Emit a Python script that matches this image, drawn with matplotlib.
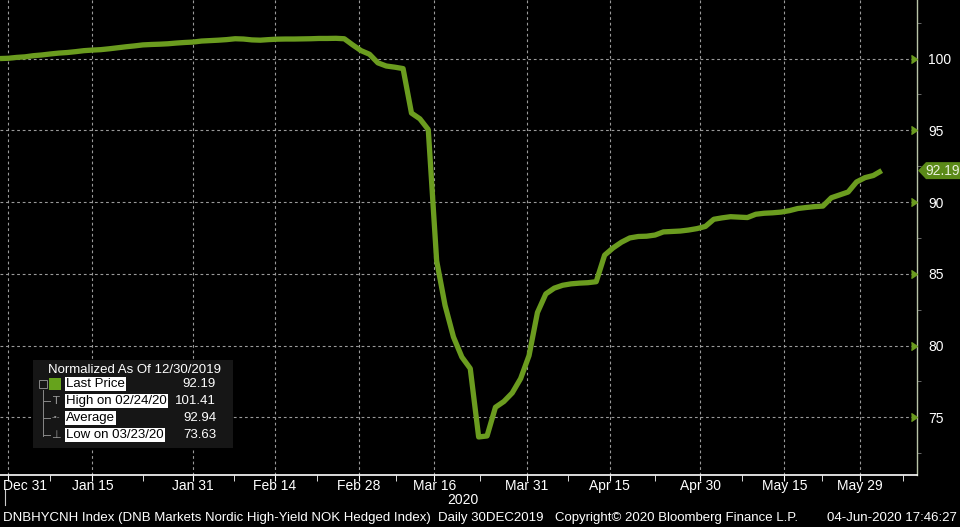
import matplotlib
matplotlib.use("Agg")
import matplotlib.pyplot as plt
import matplotlib.transforms as mtransforms
from matplotlib.patches import Polygon, Rectangle
from matplotlib.lines import Line2D

# normalized index level, one value per trading day starting 30 Dec 2019
values = [
    100.00, 100.02, 100.08, 100.12, 100.20, 100.25, 100.32, 100.38, 100.42, 100.48,
    100.55, 100.59, 100.62, 100.68, 100.75, 100.82, 100.88, 100.95, 100.98, 101.00,
    101.03, 101.08, 101.12, 101.15, 101.22, 101.25, 101.28, 101.32, 101.38, 101.36,
    101.30, 101.28, 101.32, 101.35, 101.36, 101.36, 101.37, 101.38, 101.40, 101.40,
    101.41, 101.38, 100.95, 100.55, 100.30, 99.70, 99.48, 99.40, 99.30, 96.20,
    95.80, 95.05, 85.90, 82.80, 80.60, 79.20, 78.40, 73.63, 73.70, 75.70,
    76.10, 76.70, 77.70, 79.30, 82.30, 83.60, 84.00, 84.20, 84.30, 84.35,
    84.38, 84.45, 86.30, 86.80, 87.20, 87.50, 87.60, 87.62, 87.70, 87.92,
    87.95, 87.98, 88.05, 88.15, 88.30, 88.80, 88.90, 88.98, 88.95, 88.92,
    89.15, 89.22, 89.25, 89.30, 89.40, 89.55, 89.62, 89.68, 89.72, 90.30,
    90.50, 90.70, 91.40, 91.70, 91.85, 92.19,
]

date_ticks = [1, 11, 23, 32.7, 42.7, 51.7, 62.7, 72.6, 83.4, 93.4, 102.4]
date_labels = ["Dec 31", "Jan 15", "Jan 31", "Feb 14", "Feb 28", "Mar 16",
               "Mar 31", "Apr 15", "Apr 30", "May 15", "May 29"]
price_ticks = [75, 80, 85, 90, 95, 100]
minor_ticks = [72.5, 77.5, 82.5, 87.5, 92.5, 97.5, 102.5]

legend_names = ["Last Price", "High on 02/24/20", "Average", "Low on 03/23/20"]
legend_values = ["92.19", "101.41", "92.94", "73.63"]

GREEN = "#6b9c1f"
GRID = "#9a9a9a"
FS = 9.5
plt.rcParams["font.family"] = ["Liberation Sans Narrow", "Liberation Sans", "DejaVu Sans"]

fig = plt.figure(figsize=(9.6, 5.27), dpi=100, facecolor="black")
ax = fig.add_axes([0, 52 / 527, 917 / 960, 475 / 527], facecolor="black")

ax.plot(range(len(values)), values, color=GREEN, lw=3.8, solid_joinstyle="round",
        solid_capstyle="butt", zorder=3)

ax.set_xlim(0, 109.2)
ax.set_ylim(70.98, 104.08)

for s in ["top", "left"]:
    ax.spines[s].set_visible(False)
ax.spines["right"].set_color("#b9c4a8")
ax.spines["right"].set_linewidth(1)
ax.spines["bottom"].set_color("white")
ax.spines["bottom"].set_linewidth(1.2)

# grid
for t in price_ticks:
    ax.axhline(t, color=GRID, lw=0.8, ls=(0, (2.5, 2.5)), zorder=1)
for t in date_ticks:
    ax.axvline(t, color=GRID, lw=0.8, ls=(0, (2.5, 2.5)), zorder=1)

# right price axis
ax.yaxis.tick_right()
ax.set_yticks(price_ticks)
ax.set_yticklabels([str(t) for t in price_ticks])
ax.set_yticks(minor_ticks, minor=True)
ax.tick_params(axis="y", which="major", length=0, pad=8, labelcolor="white",
               labelsize=10)
ax.tick_params(axis="y", which="minor", length=3, color="#777777", direction="out")
ax.plot([1.0] * len(price_ticks), price_ticks, marker=5, ms=6, color=GREEN, ls="none",
        transform=mtransforms.blended_transform_factory(ax.transAxes, ax.transData),
        clip_on=False, zorder=5)

# bottom date axis
ax.set_xticks(date_ticks)
ax.set_xticklabels([])
mids = [(a + b) / 2 for a, b in zip(date_ticks[:-1], date_ticks[1:])] + [107.5]
ax.set_xticks(mids, minor=True)
ax.tick_params(axis="x", which="both", length=4, color="white", direction="out")
xtr = mtransforms.blended_transform_factory(ax.transData, ax.transAxes)
for i, (t, lab) in enumerate(zip(date_ticks, date_labels)):
    if i == 0:
        fig.text(3 / 960, 1 - 486 / 527, lab, color="white", fontsize=10,
                 ha="left", va="center")
    else:
        ax.text(t, -0.024, lab, transform=xtr, color="white", fontsize=10,
                ha="center", va="center")
fig.text(463 / 960, 1 - 500 / 527, "2020", color="white", fontsize=10,
         ha="center", va="center")
fig.add_artist(Line2D([5 / 960, 5 / 960], [1 - 490 / 527, 1 - 505 / 527],
                      color="#cccccc", lw=0.8))

# last price tag
last = values[-1]
ytr = mtransforms.blended_transform_factory(ax.transAxes, ax.transData)
w = 1 / 917
h = 8.5 / 14.35
tag = Polygon([[1.0 + 1 * w, last], [1.0 + 9 * w, last + h], [1.0 + 43 * w, last + h],
               [1.0 + 43 * w, last - h], [1.0 + 9 * w, last - h]],
              closed=True, facecolor="#5b8a18", edgecolor="none",
              transform=ytr, clip_on=False, zorder=6)
ax.add_patch(tag)
ax.text(1.0 + 26 * w, last, f"{last:.2f}", transform=ytr, color="#e8f0dc",
        fontsize=10, ha="center", va="center", zorder=7, clip_on=False)

# legend box
fig.add_artist(Rectangle((33 / 960, 1 - 448 / 527), 200 / 960, 88 / 527,
                         transform=fig.transFigure, facecolor="#161616",
                         edgecolor="none", zorder=8))
fig.text(48 / 960, 1 - 370 / 527, "Normalized As Of 12/30/2019", color="white",
         fontsize=FS, ha="left", va="center", zorder=9)
row_y = [384, 401, 418, 435]
for k, (nm, vl) in enumerate(zip(legend_names, legend_values)):
    yy = 1 - row_y[k] / 527
    fig.text(66 / 960, yy, nm, color="black", fontsize=FS, ha="left", va="center",
             zorder=9, bbox=dict(boxstyle="square,pad=0.08", facecolor="white",
                                 edgecolor="none"))
    fig.text(216 / 960, yy, vl, color="white", fontsize=FS, ha="right",
             va="center", zorder=9)
fig.add_artist(Rectangle((49 / 960, 1 - 390 / 527), 12 / 960, 12 / 527,
                         transform=fig.transFigure, facecolor="#66a31c",
                         edgecolor="none", zorder=9))
# tree guide lines
fig.add_artist(Line2D([43 / 960, 43 / 960], [1 - 390 / 527, 1 - 436 / 527],
                      color="#888888", lw=0.7, zorder=9))
for k in range(1, 4):
    yy = 1 - row_y[k] / 527
    fig.add_artist(Line2D([43 / 960, 50 / 960], [yy, yy], color="#888888", lw=0.7,
                          zorder=9))
fig.add_artist(Rectangle((39 / 960, 1 - 388 / 527), 8 / 960, 8 / 527,
                         transform=fig.transFigure, facecolor="none",
                         edgecolor="#888888", lw=0.7, zorder=9))
for k, sym in zip([1, 3], ["T", "⊥"]):
    fig.text(56 / 960, 1 - row_y[k] / 527, sym, color="#999999", fontsize=8,
             ha="center", va="center", zorder=9, family="DejaVu Sans")
fig.text(56 / 960, 1 - row_y[2] / 527, "-•-", color="#999999", fontsize=6,
         ha="center", va="center", zorder=9)

# footer
fy = 1 - 518 / 527
fig.text(3 / 960, fy, "DNBHYCNH Index (DNB Markets Nordic High-Yield NOK Hedged Index)  Daily 30DEC2019",
         color="white", fontsize=FS, ha="left", va="center")
fig.text(555 / 960, fy, "Copyright© 2020 Bloomberg Finance L.P.", color="white",
         fontsize=FS, ha="left", va="center")
fig.text(957 / 960, fy, "04-Jun-2020 17:46:27", color="white", fontsize=FS,
         ha="right", va="center")

fig.savefig("out.png", dpi=100, facecolor="black")
